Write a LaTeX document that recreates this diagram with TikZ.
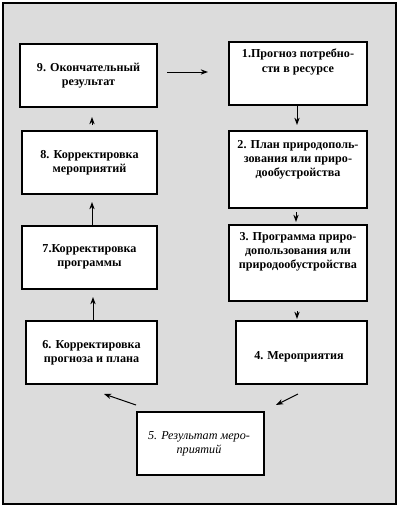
\documentclass[tikz,border=0pt]{standalone}
\usepackage{fontspec}
\setmainfont{Liberation Serif}
\usetikzlibrary{arrows.meta}
\definecolor{bggray}{RGB}{220,220,220}
\tikzset{
  box/.style={draw=black, line width=0.8pt, fill=white, rectangle, inner sep=0pt},
  txt/.style={align=center, inner sep=0pt, font=\fontsize{9.1}{10.6}\selectfont\bfseries},
  itxt/.style={align=center, inner sep=0pt, font=\fontsize{9.1}{10.6}\selectfont\itshape},
  arr/.style={draw=black, line width=0.75pt, -{Stealth[length=5.5pt,width=4pt]}},
}
\newcommand{\mybox}[5]{% name, x1, y1, x2, y2
  \node[box, minimum width={(#4-#2)*0.75pt}, minimum height={(#5-#3)*0.75pt}] (#1) at ({(#2+#4)/2},{(#3+#5)/2}) {};}
\begin{document}
\begin{tikzpicture}[x=0.75pt, y=-0.75pt]
\useasboundingbox (0,0) rectangle (400,508);
\fill[white] (0,0) rectangle (400,508);
\draw[fill=bggray, line width=0.8pt] (3,3) rectangle (396,504);

\mybox{b9}{20}{44}{157}{107}
\mybox{b8}{22}{131}{157}{194}
\mybox{b7}{22}{226}{157}{289}
\mybox{b6}{26}{321}{157}{384}
\mybox{b1}{229}{42}{367}{105}
\mybox{b2}{229}{131}{367}{208}
\mybox{b3}{229}{225}{367}{301}
\mybox{b4}{236}{321}{367}{384}
\mybox{b5}{137}{412}{264}{475}

\node[txt] (t9) at (88.5,76) {9. Окончательный\\результат};
\node[txt] (t8) at (89.5,163) {8. Корректировка\\мероприятий};
\node[txt] (t7) at (89.5,256.5) {7.Корректировка\\программы};
\node[txt] (t6) at (91.5,353) {6. Корректировка\\прогноза и плана};
\node[txt] (t1) at (298,62) {1.Прогноз потребно-\\сти в ресурсе};
\node[txt] (t2) at (298,160) {2. План природополь-\\зования или приро-\\дообустройства};
\node[txt] (t3) at (298,252) {3. Программа приро-\\допользования или\\природообустройства};
\node[txt] (t4) at (299,357) {4. Мероприятия};
\node[itxt] (t5) at (199,444) {5. Результат меро-\\приятий};

\coordinate (a91) at (167,72);  \coordinate (a92) at (208,72);
\coordinate (a121) at (297,105); \coordinate (a122) at (297,125);
\coordinate (a231) at (296,212); \coordinate (a232) at (296,222);
\coordinate (a341) at (297,311); \coordinate (a342) at (297,319);
\coordinate (a451) at (298,394); \coordinate (a452) at (276,405);
\coordinate (a561) at (136,405); \coordinate (a562) at (104,394);
\coordinate (a671) at (93,321); \coordinate (a672) at (93,297);
\coordinate (a781) at (92,225); \coordinate (a782) at (92,202);
\coordinate (a891) at (92,125); \coordinate (a892) at (92,117);

\draw[arr] (a91) -- (a92);
\draw[arr] (a121) -- (a122);
\draw[arr] (a231) -- (a232);
\draw[arr] (a341) -- (a342);
\draw[arr] (a451) -- (a452);
\draw[arr] (a561) -- (a562);
\draw[arr] (a671) -- (a672);
\draw[arr] (a781) -- (a782);
\draw[arr] (a891) -- (a892);
\end{tikzpicture}
\end{document}
